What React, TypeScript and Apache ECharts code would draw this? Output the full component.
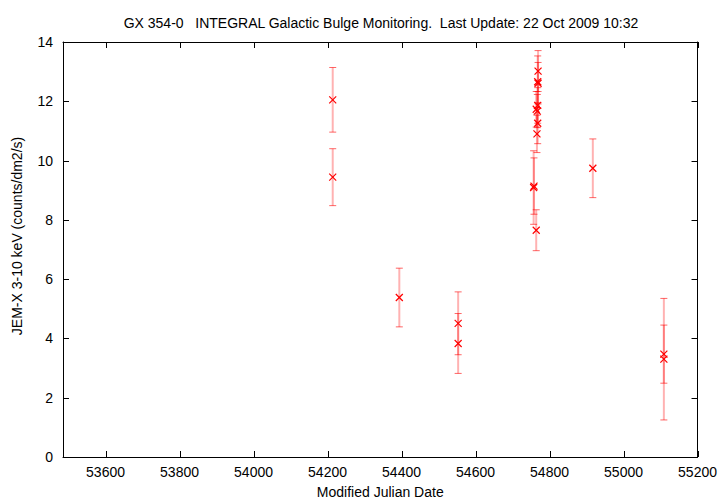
import React, { useEffect, useRef } from "react";
import * as echarts from "echarts";

const titleText = "GX 354-0   INTEGRAL Galactic Bulge Monitoring.  Last Update: 22 Oct 2009 10:32";
const xAxisName = "Modified Julian Date";
const yAxisName = "JEM-X 3-10 keV (counts/dm2/s)";

const xMin = 53485;
const xMax = 55200;
const yMin = 0;
const yMax = 14;
const xTicks = [53600, 53800, 54000, 54200, 54400, 54600, 54800, 55000, 55200];
const yTicks = [0, 2, 4, 6, 8, 10, 12, 14];

const mjd = [
  54214, 54214, 54394, 54553, 54553,
  54757, 54758, 54764, 54764, 54766, 54767, 54768, 54768, 54768, 54769, 54769,
  54917, 55109, 55109,
];
const flux = [
  12.05, 9.44, 5.38, 4.51, 3.83,
  9.09, 9.14, 7.65, 11.73, 10.9, 11.67, 11.86, 11.26, 12.66, 12.61, 13.02,
  9.74, 3.47, 3.3,
];
const fluxErr = [
  1.09, 0.96, 0.99, 1.06, 1.01,
  1.24, 0.95, 0.69, 0.6, 0.63, 0.56, 0.6, 0.69, 0.87, 0.7, 0.69,
  0.99, 0.98, 2.05,
];

const FONT = "'Liberation Sans', Arial, Helvetica, sans-serif";
const FS = 14;

export default function App() {
  const ref = useRef<HTMLDivElement>(null);
  useEffect(() => {
    if (!ref.current) return;
    const chart = echarts.init(ref.current, null, { renderer: "svg" });
    const data = mjd.map((m, i) => [m, flux[i], fluxErr[i]]);
    const mkAxisLine = () => ({ show: true, onZero: false, lineStyle: { color: "#000", width: 1 } });
    const TL = 6;
    const tickStyle = { stroke: "#000", lineWidth: 1 };
    chart.setOption({
      animation: false,
      backgroundColor: "#fff",
      textStyle: { fontFamily: FONT },
      grid: { left: 63, right: 13, top: 42, bottom: 38, containLabel: false },
      title: {
        text: titleText,
        left: 376,
        top: 11,
        textAlign: "center",
        textStyle: { fontSize: FS, fontWeight: "normal", color: "#000", fontFamily: FONT },
      },
      graphic: [
        {
          type: "text",
          x: 17,
          y: 236,
          rotation: Math.PI / 2,
          style: {
            text: yAxisName,
            fontSize: FS,
            fontFamily: FONT,
            fill: "#000",
            align: "center",
            verticalAlign: "middle",
          },
        },
      ],
      xAxis: [
        {
          type: "value",
          min: xMin,
          max: xMax,
          position: "bottom",
          name: xAxisName,
          nameLocation: "middle",
          nameGap: 28,
          nameMoveOverlap: false,
          nameTextStyle: { fontSize: FS, color: "#000", fontFamily: FONT },
          axisLine: mkAxisLine(),
          axisTick: { show: false },
          axisLabel: {
            show: true,
            customValues: xTicks,
            margin: 8,
            fontSize: FS,
            color: "#000",
            fontFamily: FONT,
            formatter: (v: number) => String(v),
          },
          splitLine: { show: false },
        },
        {
          type: "value",
          min: xMin,
          max: xMax,
          position: "top",
          axisLine: mkAxisLine(),
          axisTick: { show: false },
          axisLabel: { show: false },
          splitLine: { show: false },
        },
      ],
      yAxis: [
        {
          type: "value",
          min: yMin,
          max: yMax,
          interval: 2,
          position: "left",
          axisLine: mkAxisLine(),
          axisTick: { show: false },
          axisLabel: {
            show: true,
            margin: 10,
            fontSize: FS,
            color: "#000",
            fontFamily: FONT,
            formatter: (v: number) => String(v),
          },
          splitLine: { show: false },
        },
        {
          type: "value",
          min: yMin,
          max: yMax,
          interval: 2,
          position: "right",
          axisLine: mkAxisLine(),
          axisTick: { show: false },
          axisLabel: { show: false },
          splitLine: { show: false },
        },
      ],
      series: [
        {
          type: "custom",
          name: "xticks",
          xAxisIndex: 0,
          yAxisIndex: 0,
          data: xTicks.map((v) => [v, yMin]),
          clip: false,
          silent: true,
          z: 10,
          renderItem: (params: any, api: any) => {
            const v = api.value(0);
            const b = api.coord([v, yMin]);
            const t = api.coord([v, yMax]);
            const x = Math.round(b[0]) + 0.5;
            return {
              type: "group",
              children: [
                { type: "line", shape: { x1: x, y1: b[1], x2: x, y2: b[1] - TL }, style: tickStyle },
                { type: "line", shape: { x1: x, y1: t[1], x2: x, y2: t[1] + TL }, style: tickStyle },
              ],
            };
          },
        },
        {
          type: "custom",
          name: "yticks",
          xAxisIndex: 0,
          yAxisIndex: 0,
          data: yTicks.map((v) => [xMin, v]),
          clip: false,
          silent: true,
          z: 10,
          renderItem: (params: any, api: any) => {
            const v = api.value(1);
            const l = api.coord([xMin, v]);
            const r = api.coord([xMax, v]);
            const y = Math.round(l[1]) + 0.5;
            return {
              type: "group",
              children: [
                { type: "line", shape: { x1: l[0], y1: y, x2: l[0] + TL, y2: y }, style: tickStyle },
                { type: "line", shape: { x1: r[0], y1: y, x2: r[0] - TL, y2: y }, style: tickStyle },
              ],
            };
          },
        },
        {
          type: "custom",
          name: "JEM-X",
          xAxisIndex: 0,
          yAxisIndex: 0,
          data,
          z: 5,
          renderItem: (params: any, api: any) => {
            const x = api.value(0);
            const y = api.value(1);
            const e = api.value(2);
            const p = api.coord([x, y]);
            const t = api.coord([x, y + e]);
            const b = api.coord([x, y - e]);
            const cx = p[0];
            const capW = 3.5;
            const m = 3.5;
            return {
              type: "group",
              children: [
                {
                  type: "line",
                  shape: { x1: cx, y1: t[1], x2: cx, y2: b[1] },
                  style: { stroke: "rgba(255,0,0,0.3)", lineWidth: 2 },
                },
                {
                  type: "line",
                  shape: { x1: cx - capW, y1: t[1], x2: cx + capW, y2: t[1] },
                  style: { stroke: "rgba(255,0,0,0.6)", lineWidth: 1 },
                },
                {
                  type: "line",
                  shape: { x1: cx - capW, y1: b[1], x2: cx + capW, y2: b[1] },
                  style: { stroke: "rgba(255,0,0,0.6)", lineWidth: 1 },
                },
                {
                  type: "line",
                  shape: { x1: cx - m, y1: p[1] - m, x2: cx + m, y2: p[1] + m },
                  style: { stroke: "#ff0000", lineWidth: 1.2 },
                },
                {
                  type: "line",
                  shape: { x1: cx - m, y1: p[1] + m, x2: cx + m, y2: p[1] - m },
                  style: { stroke: "#ff0000", lineWidth: 1.2 },
                },
              ],
            };
          },
        },
      ],
    });
    return () => chart.dispose();
  }, []);
  return <div ref={ref} style={{ width: 720, height: 504, position: "fixed", left: 0, top: 0 }} />;
}
